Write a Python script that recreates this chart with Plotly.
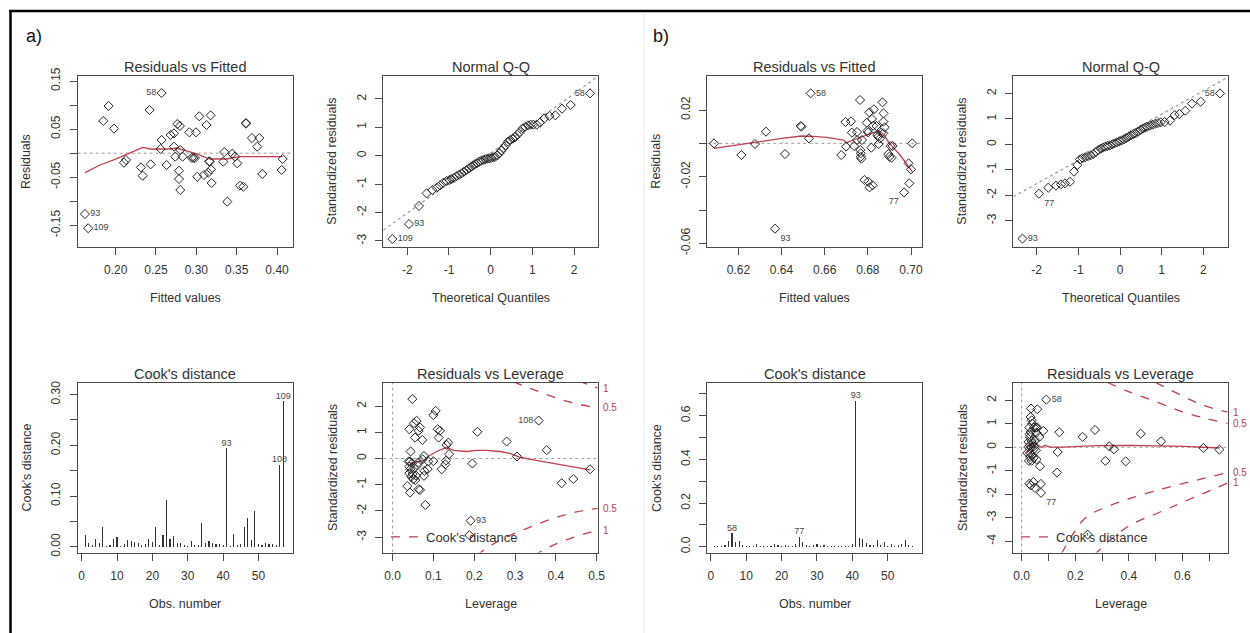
import plotly.graph_objects as go

W, H = 1250, 633
FONT = "Liberation Sans, Arial, sans-serif"
INK = "#333333"
FRAME = "#4a4a4a"
RED = "#c0404e"
DOT = "#9a9a9a"

# ================= DATA: panel a) =================
# a1 Residuals vs Fitted (labelled points first)
a1_fitted = [0.162, 0.166, 0.257, 0.1847, 0.1913, 0.198, 0.2103, 0.2128, 0.2314, 0.2335, 0.2421, 0.2434,
             0.257, 0.2558, 0.2632, 0.2682, 0.2723, 0.2723, 0.2764, 0.2797, 0.2739, 0.2785, 0.2785, 0.2801,
             0.2801, 0.283, 0.2913, 0.2995, 0.2962, 0.2983, 0.3012, 0.3037, 0.3094, 0.3127, 0.3148, 0.3177,
             0.3181, 0.316, 0.319, 0.3334, 0.3346, 0.3384, 0.3446, 0.3479, 0.3508, 0.3541, 0.3582, 0.3615,
             0.3615, 0.3689, 0.378, 0.3755, 0.3817, 0.407, 0.4057, 0.2942, 0.3165]
a1_resid = [-0.1265, -0.156, 0.125, 0.0669, 0.0981, 0.051, -0.0198, -0.0142, -0.0295, -0.0468, 0.0897, -0.0232,
            0.0274, 0.0087, -0.0246, 0.0378, 0.0412, 0.0135, 0.0606, 0.0565, -0.0073, -0.0364, -0.0537, -0.0766,
            0.0066, -0.0073, 0.0433, 0.0433, -0.01, -0.01, -0.049, 0.0766, -0.0454, 0.0586, -0.0405, 0.0786,
            -0.0336, -0.017, -0.062, -0.0177, 0.0024, -0.1008, -0.001, -0.0073, -0.0211, -0.0676, -0.0697, 0.0627,
            0.0613, 0.0315, 0.0315, 0.0135, -0.0433, -0.0121, -0.035, -0.0095, -0.0175]
a1_labels = ["93", "109", "58"]
a1_label_pos = ["middle right", "middle right", "middle left"]
a1_smooth_x = [0.162, 0.1806, 0.1992, 0.2136, 0.2335, 0.2425, 0.2549, 0.2673, 0.2756, 0.288, 0.3004, 0.3169,
               0.3376, 0.354, 0.3706, 0.407]
a1_smooth_y = [-0.0405, -0.0246, -0.0128, -0.0017, 0.0121, 0.0087, 0.008, 0.0087, 0.0107, 0.0052, -0.0017,
               -0.0121, -0.0121, -0.0073, -0.0073, -0.0073]

# a2 Normal Q-Q
a2_theo = [-2.36, -1.96, 2.384,
           -1.72, -1.536, -1.4, -1.296, -1.216, -1.136, -1.056, -0.992, -0.936, -0.88, -0.816, -0.752, -0.696,
           -0.64, -0.576, -0.52, -0.464, -0.416, -0.368, -0.32, -0.272, -0.224, -0.176, -0.128, -0.08, -0.032,
           0.016, 0.064, 0.112, 0.16, 0.208, 0.256, 0.304, 0.36, 0.416, 0.472, 0.528, 0.584, 0.64, 0.704, 0.768,
           0.832, 0.896, 0.96, 1.024, 1.104, 1.184, 1.288, 1.408, 1.552, 1.712, 1.92]
a2_std = [-2.934, -2.406, 2.195,
          -1.77, -1.326, -1.21, -1.127, -1.045, -0.95, -0.89, -0.857, -0.82, -0.786, -0.716, -0.67, -0.622,
          -0.563, -0.505, -0.446, -0.387, -0.34, -0.293, -0.258, -0.211, -0.176, -0.153, -0.129, -0.106, -0.094,
          -0.082, -0.059, -0.035, 0.012, 0.082, 0.176, 0.27, 0.364, 0.493, 0.552, 0.6, 0.646, 0.74, 0.833, 0.962,
          1.02, 1.068, 1.092, 1.092, 1.092, 1.162, 1.315, 1.397, 1.42, 1.655, 1.784]
a2_labels = ["109", "93", "58"]
a2_label_pos = ["middle right", "middle right", "middle left"]
a2_line_x = [-2.576, 2.568]
a2_line_y = [-2.62, 2.78]

# a3 Cook's distance (obs 1..57)
a3_cook = [0.023, 0.007, 0.004, 0.016, 0.007, 0.039, 0.001, 0.004, 0.016, 0.019,
           0.002, 0.005, 0.013, 0.011, 0.009, 0.007, 0.004, 0.005, 0.016, 0.009,
           0.039, 0.003, 0.024, 0.092, 0.016, 0.022, 0.007, 0.008, 0.003, 0.002,
           0.012, 0.004, 0.003, 0.046, 0.007, 0.012, 0.007, 0.006, 0.005, 0.003,
           0.195, 0.002, 0.025, 0.003, 0.006, 0.040, 0.056, 0.014, 0.070, 0.005,
           0.003, 0.007, 0.006, 0.005, 0.003, 0.162, 0.287]
a3_labels = {41: "93", 56: "108", 57: "109"}

# a4 Residuals vs Leverage
a4_lev = [0.3578, 0.1912,
          0.0482, 0.0408, 0.0523, 0.0588, 0.067, 0.0637, 0.0547, 0.0727, 0.0441, 0.0425, 0.0408, 0.0359, 0.0425,
          0.0408, 0.0458, 0.0507, 0.0556, 0.0474, 0.0523, 0.0605, 0.0637, 0.067, 0.0768, 0.0776, 0.0768, 0.0801,
          0.0858, 0.0874, 0.0997, 0.1054, 0.1103, 0.116, 0.1127, 0.0997, 0.1201, 0.1307, 0.1291, 0.1324, 0.1364,
          0.1381, 0.1953, 0.2075, 0.1879, 0.2794, 0.3047, 0.3775, 0.4142, 0.4428, 0.4837, 0.0392, 0.0629, 0.0735,
          0.049, 0.0572, 0.0433]
a4_std = [1.45, -2.37,
          2.27, 1.12, 1.35, 1.44, 1.19, 1.06, 0.80, 0.71, 0.27, -0.11, -0.31, -1.05, -1.30, -0.56, -0.69, -0.79,
          -0.82, -0.18, -0.36, -0.26, -1.17, -1.20, 0.10, -0.47, -0.66, -1.77, -0.40, -0.11, 1.66, 1.82, 1.12,
          1.06, 0.80, -0.10, -0.41, -0.08, -0.22, 0.52, 0.61, 0.17, -0.19, 1.02, -2.92, 0.65, 0.08, 0.32, -0.94,
          -0.78, -0.41, -0.11, -0.15, -0.03, -0.59, -0.65, -0.41]
a4_labels = ["108", "93"]
a4_label_pos = ["middle left", "middle right"]
a4_smooth_x = [0.0425, 0.0507, 0.067, 0.0768, 0.0874, 0.1078, 0.1324, 0.1487, 0.1814, 0.2059, 0.2304, 0.2631,
               0.2876, 0.3121, 0.3448, 0.3938, 0.4837]
a4_smooth_y = [-0.18, -0.15, -0.11, -0.08, 0.08, 0.27, 0.43, 0.31, 0.27, 0.31, 0.31, 0.27, 0.20, 0.05, -0.05,
               -0.18, -0.43]
a4_c1_up_x = [0.455, 0.48, 0.5025]
a4_c1_up_y = [2.96, 2.82, 2.69]
a4_c05_up_x = [0.295, 0.345, 0.394, 0.443, 0.5025]
a4_c05_up_y = [2.93, 2.63, 2.35, 2.12, 1.93]
a4_c05_lo_x = [0.205, 0.263, 0.328, 0.394, 0.451, 0.5025]
a4_c05_lo_y = [-3.70, -3.11, -2.67, -2.28, -2.03, -1.90]
a4_c1_lo_x = [0.345, 0.394, 0.443, 0.5025]
a4_c1_lo_y = [-3.70, -3.30, -3.01, -2.73]

# ================= DATA: panel b) =================
b1_fitted = [0.637, 0.6535, 0.6968,
             0.6087, 0.6214, 0.6277, 0.6328, 0.6416, 0.6489, 0.6492, 0.6527, 0.6677, 0.6696, 0.6699, 0.6722,
             0.6726, 0.6736, 0.675, 0.675, 0.6764, 0.6765, 0.6767, 0.6767, 0.677, 0.6773, 0.6784, 0.6795, 0.6798,
             0.6801, 0.6802, 0.6807, 0.6808, 0.6816, 0.6819, 0.6822, 0.6825, 0.6828, 0.684, 0.6844, 0.6848, 0.685,
             0.6856, 0.6862, 0.6868, 0.6873, 0.6872, 0.6878, 0.6872, 0.6895, 0.69, 0.6906, 0.691, 0.6915, 0.6989,
             0.6992, 0.70, 0.7006]
b1_resid = [-0.0512, 0.030, -0.0294,
            0.0, -0.007, -0.0004, 0.007, -0.0064, 0.0104, 0.010, 0.003, -0.007, 0.0128, -0.002, 0.0132, 0.0064,
            -0.0016, 0.0068, 0.002, 0.026, -0.004, -0.006, -0.008, -0.0092, 0.002, -0.022, 0.0124, 0.0076, 0.0066,
            -0.023, 0.0186, -0.0264, -0.0026, 0.0146, -0.0252, 0.0106, 0.0204, 0.0104, 0.005, 0.004, -0.0004,
            0.003, 0.0064, 0.0246, 0.018, 0.013, 0.0096, 0.006, -0.0064, -0.008, -0.0016, -0.0086, -0.0016, -0.012,
            -0.024, -0.0156, 0.0]
b1_labels = ["93", "58", "77"]
b1_label_pos = ["bottom right", "middle right", "bottom left"]
b1_smooth_x = [0.6087, 0.6192, 0.63, 0.6393, 0.6493, 0.6547, 0.6609, 0.6686, 0.6702, 0.6733, 0.6779, 0.6825,
               0.6849, 0.6864, 0.688, 0.69, 0.6949, 0.7006]
b1_smooth_y = [-0.003, -0.0012, 0.001, 0.0028, 0.0044, 0.0042, 0.0036, 0.002, 0.0004, 0.002, 0.004, 0.0064,
               0.0076, 0.0064, 0.004, 0.0, -0.007, -0.017]

b2_theo = [-2.34, -1.944, 2.4,
           -1.72, -1.536, -1.416, -1.32, -1.2, -1.104, -1.024, -0.96, -0.896, -0.832, -0.768, -0.704, -0.64,
           -0.576, -0.52, -0.464, -0.408, -0.352, -0.296, -0.24, -0.184, -0.128, -0.072, -0.016, 0.04, 0.096,
           0.152, 0.208, 0.264, 0.32, 0.376, 0.432, 0.488, 0.544, 0.6, 0.656, 0.72, 0.784, 0.848, 0.912, 0.976,
           1.072, 1.2, 1.312, 1.424, 1.568, 1.728, 1.936]
b2_std = [-3.70, -1.937, 2.0,
          -1.70, -1.62, -1.57, -1.53, -1.47, -1.07, -0.81, -0.59, -0.54, -0.51, -0.46, -0.43, -0.38, -0.30,
          -0.22, -0.17, -0.13, -0.09, -0.065, -0.04, 0.0, 0.04, 0.08, 0.12, 0.157, 0.196, 0.249, 0.30, 0.353,
          0.406, 0.43, 0.497, 0.563, 0.615, 0.654, 0.694, 0.733, 0.772, 0.81, 0.838, 0.864, 0.877, 0.93, 1.15,
          1.19, 1.32, 1.597, 1.675]
b2_labels = ["93", "77", "58"]
b2_label_pos = ["middle right", "bottom right", "middle left"]
b2_line_x = [-2.56, 2.584]
b2_line_y = [-2.055, 2.63]

b3_cook = [0.002, 0.003, 0.004, 0.008, 0.025, 0.061, 0.020, 0.028, 0.008, 0.003,
           0.002, 0.003, 0.012, 0.005, 0.003, 0.005, 0.004, 0.013, 0.008, 0.006,
           0.007, 0.004, 0.006, 0.011, 0.047, 0.020, 0.008, 0.006, 0.010, 0.015,
           0.004, 0.008, 0.005, 0.004, 0.003, 0.003, 0.002, 0.003, 0.006, 0.014,
           0.669, 0.040, 0.037, 0.018, 0.010, 0.008, 0.030, 0.008, 0.022, 0.006,
           0.014, 0.004, 0.010, 0.012, 0.030, 0.008, 0.004]
b3_labels = {6: "58", 25: "77", 41: "93"}

b4_lev = [0.0921, 0.0722,
          0.0348, 0.0585, 0.0336, 0.0373, 0.0398, 0.0286, 0.046, 0.0535, 0.0585, 0.0809, 0.0336, 0.066, 0.0311,
          0.0261, 0.0373, 0.0311, 0.0212, 0.0336, 0.0436, 0.0535, 0.0311, 0.0274, 0.0373, 0.056, 0.0684, 0.0286,
          0.0348, 0.0436, 0.0498, 0.0722, 0.0249, 0.046, 0.0411, 0.1406, 0.1344, 0.1319, 0.2278, 0.2738, 0.3124,
          0.3273, 0.3447, 0.3883, 0.4443, 0.5202, 0.6783, 0.738, 0.2464, 0.03, 0.04, 0.05, 0.045, 0.035, 0.055]
b4_std = [2.03, -1.94,
          1.65, 1.62, 1.29, 1.15, 1.01, 0.84, 0.84, 0.84, 0.84, 0.70, 0.65, 0.44, 0.44, 0.23, 0.27, 0.085, -0.24,
          -0.27, -0.10, -0.13, -0.41, -0.58, -0.58, -0.52, -0.81, -1.55, -1.62, -1.48, -1.73, -1.56, 0.01, 0.04,
          0.16, 0.64, -0.20, -1.08, 0.44, 0.74, -0.58, 0.04, -0.085, -0.60, 0.58, 0.255, -0.03, -0.10, -3.72,
          0.55, -0.35, 0.30, -0.45, 0.0, 0.62]
b4_labels = ["58", "77"]
b4_label_pos = ["middle right", "bottom right"]
b4_smooth_x = [0.0124, 0.025, 0.037, 0.05, 0.062, 0.075, 0.087, 0.106, 0.156, 0.218, 0.28, 0.404, 0.604, 0.738]
b4_smooth_y = [-0.27, -0.13, 0.16, 0.18, 0.085, -0.01, 0.085, 0.01, 0.01, 0.04, 0.07, 0.085, 0.04, -0.03]
b4_c1_up_x = [0.50, 0.6036, 0.678, 0.769]
b4_c1_up_y = [2.76, 2.17, 1.79, 1.50]
b4_c05_up_x = [0.32, 0.4045, 0.504, 0.6036, 0.6907, 0.769]
b4_c05_up_y = [2.76, 2.35, 1.93, 1.50, 1.22, 1.01]
b4_c05_lo_x = [0.148, 0.193, 0.2427, 0.3174, 0.4045, 0.529, 0.6534, 0.769]
b4_c05_lo_y = [-4.55, -3.67, -2.96, -2.54, -2.18, -1.76, -1.40, -1.08]
b4_c1_lo_x = [0.27, 0.33, 0.4045, 0.504, 0.6036, 0.769]
b4_c1_lo_y = [-4.60, -3.96, -3.32, -2.82, -2.33, -1.52]

# ================= TEXT / TICKS =================
titles = ["Residuals vs Fitted", "Normal Q-Q", "Cook's distance", "Residuals vs Leverage"] * 2
x_titles = ["Fitted values", "Theoretical Quantiles", "Obs. number", "Leverage"] * 2
y_titles = ["Residuals", "Standardized residuals", "Cook's distance", "Standardized residuals"] * 2
panel_labels = ["a)", "b)"]

ticks = {
    "1": dict(xv=[0.20, 0.25, 0.30, 0.35, 0.40], xt=["0.20", "0.25", "0.30", "0.35", "0.40"],
              yv=[-0.15, -0.10, -0.05, 0, 0.05, 0.10, 0.15], yt=["-0.15", "", "-0.05", "", "0.05", "", "0.15"]),
    "2": dict(xv=[-2, -1, 0, 1, 2], xt=["-2", "-1", "0", "1", "2"],
              yv=[-3, -2, -1, 0, 1, 2], yt=["-3", "-2", "-1", "0", "1", "2"]),
    "3": dict(xv=[0, 10, 20, 30, 40, 50], xt=["0", "10", "20", "30", "40", "50"],
              yv=[0, 0.05, 0.10, 0.15, 0.20, 0.25, 0.30], yt=["0.00", "", "0.10", "", "0.20", "", "0.30"]),
    "4": dict(xv=[0, 0.1, 0.2, 0.3, 0.4, 0.5], xt=["0.0", "0.1", "0.2", "0.3", "0.4", "0.5"],
              yv=[-3, -2, -1, 0, 1, 2], yt=["-3", "-2", "-1", "0", "1", "2"]),
    "5": dict(xv=[0.62, 0.64, 0.66, 0.68, 0.70], xt=["0.62", "0.64", "0.66", "0.68", "0.70"],
              yv=[-0.06, -0.04, -0.02, 0, 0.02], yt=["-0.06", "", "-0.02", "", "0.02"]),
    "6": dict(xv=[-2, -1, 0, 1, 2], xt=["-2", "-1", "0", "1", "2"],
              yv=[-3, -2, -1, 0, 1, 2], yt=["-3", "-2", "-1", "0", "1", "2"]),
    "7": dict(xv=[0, 10, 20, 30, 40, 50], xt=["0", "10", "20", "30", "40", "50"],
              yv=[0, 0.1, 0.2, 0.3, 0.4, 0.5, 0.6, 0.7], yt=["0.0", "", "0.2", "", "0.4", "", "0.6", ""]),
    "8": dict(xv=[0, 0.1, 0.2, 0.3, 0.4, 0.5, 0.6, 0.7], xt=["0.0", "", "0.2", "", "0.4", "", "0.6", ""],
              yv=[-4, -3, -2, -1, 0, 1, 2], yt=["-4", "-3", "-2", "-1", "0", "1", "2"]),
}

ranges = {
    "1": ([0.153, 0.4194], [-0.1944, 0.1604]),
    "2": ([-2.576, 2.568], [-3.204, 2.805]),
    "3": ([-1.13, 59.7], [-0.0112, 0.3229]),
    "4": ([-0.0229, 0.5025], [-3.584, 2.883]),
    "5": ([0.6056, 0.7051], [-0.062, 0.0404]),
    "6": ([-2.56, 2.584], [-4.018, 2.683]),
    "7": ([-1.0, 59.7], [-0.026, 0.7496]),
    "8": ([-0.0311, 0.769], [-4.482, 2.738]),
}

# ================= LAYOUT GEOMETRY (pixels) =================
col_px = [(77.7, 292.7), (383.3, 597.7), (707.3, 922.0), (1013.3, 1227.7)]
row_px = [(76.0, 246.7), (383.0, 552.5)]
cells = {"1": (0, 0), "2": (1, 0), "3": (0, 1), "4": (1, 1),
         "5": (2, 0), "6": (3, 0), "7": (2, 1), "8": (3, 1)}


def px_x(p):
    return p / W


def px_y(p):
    return 1 - p / H


def ax_name(k, letter):
    return letter if k == "1" else letter + k


fig = go.Figure()


def pad(lst, n, fill):
    return list(lst) + [fill] * (n - len(lst))


def add_points(k, x, y, labels, positions):
    n = len(x)
    fig.add_trace(go.Scatter(
        x=x, y=y, mode="markers+text", xaxis=ax_name(k, "x"), yaxis=ax_name(k, "y"),
        marker=dict(symbol="diamond-open", size=7, color="#222", line=dict(width=1, color="#222")),
        text=pad(labels, n, ""), textposition=pad(positions, n, "middle right"),
        textfont=dict(size=9, color="#444", family=FONT),
        showlegend=False, hoverinfo="skip", cliponaxis=False))


def add_line(k, x, y, color, dash=None, width=1.2, shape="linear", name=None, legend=None):
    fig.add_trace(go.Scatter(
        x=x, y=y, mode="lines", xaxis=ax_name(k, "x"), yaxis=ax_name(k, "y"),
        line=dict(color=color, width=width, dash=dash, shape=shape),
        showlegend=name is not None, name=name or "", legend=legend, hoverinfo="skip"))


def add_cook(k, values, labels):
    obs = list(range(1, len(values) + 1))
    fig.add_trace(go.Bar(x=obs, y=values, width=0.32, xaxis=ax_name(k, "x"), yaxis=ax_name(k, "y"),
                         marker=dict(color="#333", line=dict(width=0)), showlegend=False, hoverinfo="skip"))
    lx = [i for i in labels]
    ly = [values[i - 1] for i in labels]
    fig.add_trace(go.Scatter(x=lx, y=ly, mode="text", text=list(labels.values()), textposition="top center",
                             xaxis=ax_name(k, "x"), yaxis=ax_name(k, "y"),
                             textfont=dict(size=9, color="#444", family=FONT),
                             showlegend=False, hoverinfo="skip", cliponaxis=False))


# ---- a1
add_line("1", a1_smooth_x, a1_smooth_y, RED, width=1.3)
add_points("1", a1_fitted, a1_resid, a1_labels, a1_label_pos)
# ---- a2
add_line("2", a2_line_x, a2_line_y, DOT, dash="dot", width=1.2)
add_points("2", a2_theo, a2_std, a2_labels, a2_label_pos)
# ---- a3
add_cook("3", a3_cook, a3_labels)
# ---- a4
for cx, cy in [(a4_c05_up_x, a4_c05_up_y), (a4_c1_up_x, a4_c1_up_y), (a4_c1_lo_x, a4_c1_lo_y)]:
    add_line("4", cx, cy, RED, dash="dash", width=1.3, shape="spline")
add_line("4", a4_c05_lo_x, a4_c05_lo_y, RED, dash="dash", width=1.3, shape="spline",
         name="Cook's distance", legend="legend")
add_line("4", a4_smooth_x, a4_smooth_y, RED, width=1.3)
add_points("4", a4_lev, a4_std, a4_labels, a4_label_pos)
# ---- b1
add_line("5", b1_smooth_x, b1_smooth_y, RED, width=1.3)
add_points("5", b1_fitted, b1_resid, b1_labels, b1_label_pos)
# ---- b2
add_line("6", b2_line_x, b2_line_y, DOT, dash="dot", width=1.2)
add_points("6", b2_theo, b2_std, b2_labels, b2_label_pos)
# ---- b3
add_cook("7", b3_cook, b3_labels)
# ---- b4
for cx, cy in [(b4_c05_up_x, b4_c05_up_y), (b4_c1_up_x, b4_c1_up_y), (b4_c1_lo_x, b4_c1_lo_y)]:
    add_line("8", cx, cy, RED, dash="dash", width=1.3, shape="spline")
add_line("8", b4_c05_lo_x, b4_c05_lo_y, RED, dash="dash", width=1.3, shape="spline",
         name="Cook's distance", legend="legend2")
add_line("8", b4_smooth_x, b4_smooth_y, RED, width=1.3)
add_points("8", b4_lev, b4_std, b4_labels, b4_label_pos)

layout = dict(width=W, height=H, margin=dict(l=0, r=0, t=0, b=0, pad=0, autoexpand=False), autosize=False,
              paper_bgcolor="white", plot_bgcolor="white", showlegend=True, bargap=0,
              font=dict(family=FONT, color=INK), template="none")

annotations = []
shapes = []
for k, (ci, ri) in cells.items():
    x0, x1 = col_px[ci]
    y0, y1 = row_px[ri]
    xr, yr = ranges[k]
    t = ticks[k]
    common = dict(showline=True, mirror=True, linecolor=FRAME, linewidth=1, ticks="outside", ticklen=7,
                  tickcolor=FRAME, tickwidth=1, showgrid=False, zeroline=False, fixedrange=True,
                  automargin=False, tickfont=dict(size=12, color=INK, family=FONT))
    layout["xaxis" + ("" if k == "1" else k)] = dict(
        domain=[px_x(x0), px_x(x1)], range=xr, anchor=ax_name(k, "y"), tickmode="array",
        tickvals=t["xv"], ticktext=t["xt"], ticklabelstandoff=5, **common)
    layout["yaxis" + ("" if k == "1" else k)] = dict(
        domain=[px_y(y1), px_y(y0)], range=yr, anchor=ax_name(k, "x"), tickmode="array",
        tickvals=t["yv"], ticktext=t["yt"], tickangle=-90, ticklabelstandoff=5, **common)
    i = int(k) - 1
    cx = (x0 + x1) / 2
    annotations.append(dict(text=titles[i], x=px_x(cx), y=px_y(y0 - 9.5), xref="paper", yref="paper",
                            showarrow=False, xanchor="center", yanchor="middle",
                            font=dict(size=14.5, color=INK, family=FONT)))
    annotations.append(dict(text=x_titles[i], x=px_x(cx), y=px_y(y1 + 51.5), xref="paper", yref="paper",
                            showarrow=False, xanchor="center", yanchor="middle",
                            font=dict(size=12.5, color=INK, family=FONT)))
    annotations.append(dict(text=y_titles[i], x=px_x(x0 - 51), y=px_y((y0 + y1) / 2), xref="paper",
                            yref="paper", showarrow=False, xanchor="center", yanchor="middle", textangle=-90,
                            font=dict(size=12.5, color=INK, family=FONT)))

for k in ["1", "5", "4", "8"]:
    shapes.append(dict(type="line", xref=ax_name(k, "x") + " domain", x0=0, x1=1, yref=ax_name(k, "y"),
                       y0=0, y1=0, line=dict(color=DOT, width=1, dash="dot"), layer="below"))
for k in ["4", "8"]:
    shapes.append(dict(type="line", yref=ax_name(k, "y") + " domain", y0=0, y1=1, xref=ax_name(k, "x"),
                       x0=0, x1=0, line=dict(color=DOT, width=1, dash="dot"), layer="below"))

for k, ends in [("4", [(a4_c1_up_y, "1"), (a4_c05_up_y, "0.5"), (a4_c05_lo_y, "0.5"), (a4_c1_lo_y, "1")]),
                ("8", [(b4_c1_up_y, "1"), (b4_c05_up_y, "0.5"), (b4_c05_lo_y, "0.5"), (b4_c1_lo_y, "1")])]:
    for ys, lab in ends:
        annotations.append(dict(text=lab, x=1.015, xref=ax_name(k, "x") + " domain", y=ys[-1],
                                yref=ax_name(k, "y"), showarrow=False, xanchor="left", yanchor="middle",
                                font=dict(size=10, color=RED, family=FONT)))

annotations.append(dict(text=panel_labels[0], x=px_x(24), y=px_y(36), xref="paper", yref="paper",
                        showarrow=False, xanchor="left", yanchor="middle", font=dict(size=18, color="#111", family=FONT)))
annotations.append(dict(text=panel_labels[1], x=px_x(651), y=px_y(36), xref="paper", yref="paper",
                        showarrow=False, xanchor="left", yanchor="middle", font=dict(size=18, color="#111", family=FONT)))

shapes.append(dict(type="line", xref="paper", yref="paper", x0=px_x(9), x1=1, y0=px_y(11), y1=px_y(11),
                   line=dict(color="black", width=2.5)))
shapes.append(dict(type="line", xref="paper", yref="paper", x0=px_x(10.5), x1=px_x(10.5), y0=0, y1=px_y(11),
                   line=dict(color="black", width=2.5)))
shapes.append(dict(type="line", xref="paper", yref="paper", x0=px_x(644), x1=px_x(644), y0=0, y1=px_y(13),
                   line=dict(color="#ececec", width=1)))

layout["annotations"] = annotations
layout["shapes"] = shapes
legend_common = dict(bgcolor="rgba(0,0,0,0)", borderwidth=0, font=dict(size=13, color=INK, family=FONT),
                     itemwidth=30, xanchor="left", yanchor="middle", tracegroupgap=0)
layout["legend"] = dict(x=px_x(386), y=px_y(537), **legend_common)
layout["legend2"] = dict(x=px_x(1016), y=px_y(537), **legend_common)

fig.update_layout(**layout)
fig.write_html("out.html",
               config={"displayModeBar": False, "responsive": False, "staticPlot": True},
               post_script="document.body.style.margin='0';document.body.style.overflow='hidden';")
